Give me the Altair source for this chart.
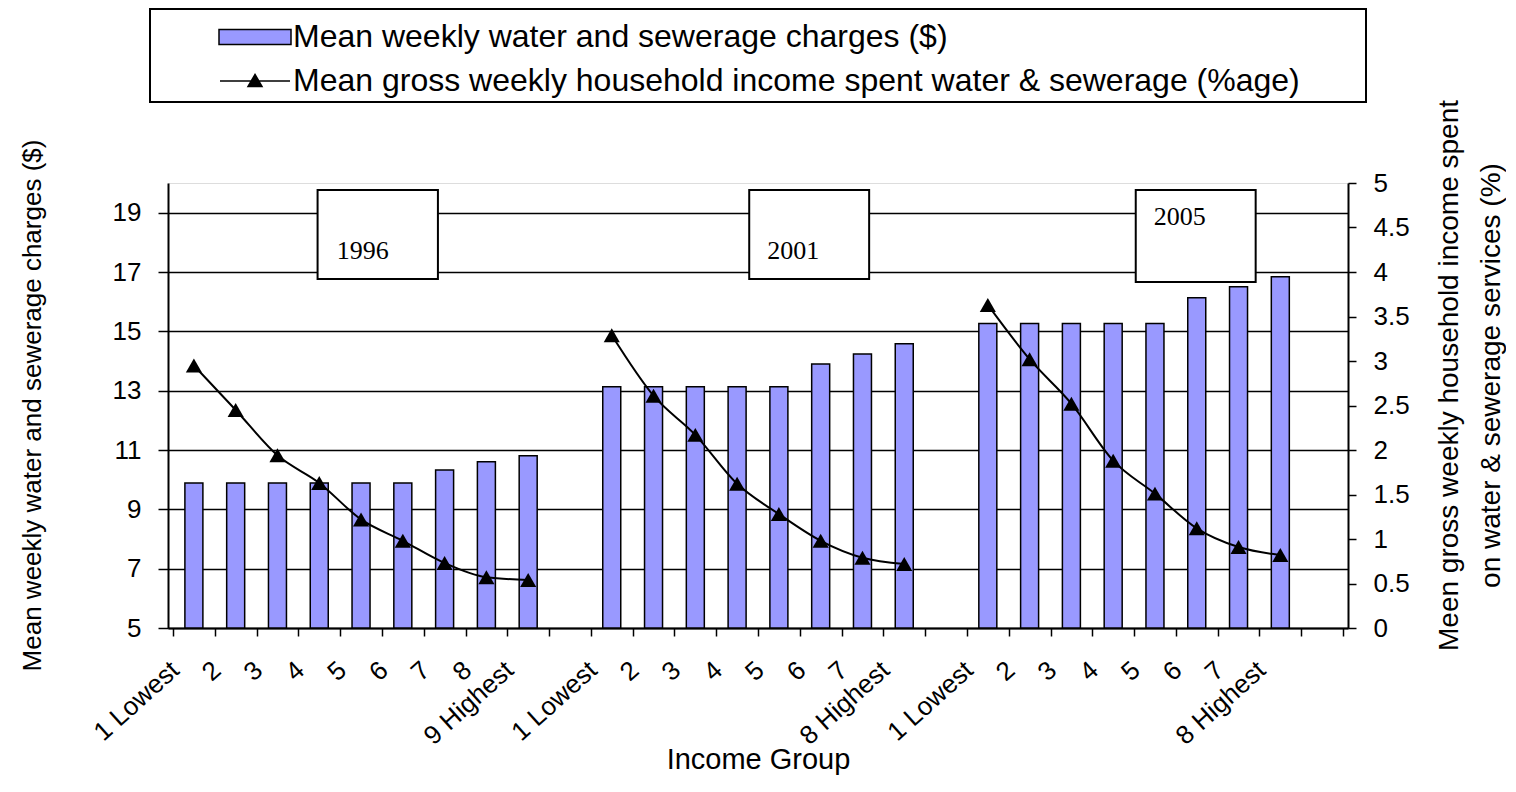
import json
import altair as alt
import pandas as pd

# ---------------- data ----------------
x_labels = ["1 Lowest", "2", "3", "4", "5", "6", "7", "8", "9 Highest", "",
            "1 Lowest", "2", "3", "4", "5", "6", "7", "8 Highest", "",
            "1 Lowest", "2", "3", "4", "5", "6", "7", "8 Highest", ""]
years = [1996, 2001, 2005]

charges_1996 = [9.89, 9.89, 9.89, 9.89, 9.89, 9.89, 10.33, 10.60, 10.81]
charges_2001 = [13.13, 13.13, 13.13, 13.13, 13.13, 13.90, 14.24, 14.58]
charges_2005 = [15.26, 15.26, 15.26, 15.26, 15.26, 16.13, 16.50, 16.84]

pct_1996 = [2.95, 2.45, 1.94, 1.63, 1.22, 0.98, 0.73, 0.57, 0.54]
pct_2001 = [3.29, 2.61, 2.17, 1.62, 1.28, 0.98, 0.79, 0.72]
pct_2005 = [3.63, 3.02, 2.52, 1.88, 1.51, 1.12, 0.91, 0.82]

series_bar = "Mean weekly water and sewerage charges ($)"
series_line = "Mean gross weekly household income spent water & sewerage (%age)"

left_title = "Mean weekly water and sewerage charges ($)"
right_title = ["Meen gross weekly household income spent",
               "on water & sewerage services (%)"]
x_title = "Income Group"

# year annotation boxes (in axis units: category slots / left axis $)
box_year = ["1996", "2001", "2005"]
box_x0 = [3.46, 13.79, 23.04]
box_x1 = [6.34, 16.66, 25.91]
box_top = [19.76, 19.76, 19.76]
box_bottom = [16.76, 16.76, 16.66]
text_x = [3.92, 14.22, 23.47]
text_y = [17.44, 17.44, 18.58]

# ---------------- tables ----------------
charges_all = [charges_1996, charges_2001, charges_2005]
pct_all = [pct_1996, pct_2001, pct_2005]
rows = []
g, k = 0, 0
for i, lab in enumerate(x_labels):
    if lab == "":
        g += 1
        k = 0
        continue
    rows.append({"pos": i + 0.5, "year": years[g],
                 "charge": charges_all[g][k], "pct": pct_all[g][k],
                 "series": series_line})
    k += 1
df = pd.DataFrame(rows)

ann = pd.DataFrame({"year": box_year, "x0": box_x0, "x1": box_x1,
                    "yt": box_top, "yb": box_bottom,
                    "tx": text_x, "ty": text_y})

N = len(x_labels)
FONT = "Liberation Sans"

x_scale = alt.Scale(domain=[0, N], nice=False, zero=False)
label_expr = ("datum.value % 1 === 0 ? '' : " + json.dumps(x_labels)
              + "[floor(datum.value)]")
x_axis = alt.Axis(
    values=[i * 0.5 for i in range(2 * N + 1)],
    labelExpr=label_expr,
    tickOpacity={"condition": {"test": "datum.value % 1 !== 0", "value": 0}, "value": 1},
    grid=False, domainColor="black", domainWidth=2,
    tickColor="black", tickWidth=1.5, tickSize=8,
    labelAngle=318, labelAlign="right", labelBaseline="middle",
    labelFont=FONT, labelFontSize=26, labelColor="black",
    labelPadding=30, labelOffset=-19, labelOverlap=False, labelFlush=False,
    title=x_title, titleFont=FONT, titleFontSize=29, titleFontWeight="normal",
    titleColor="black", titleY=131, titleBaseline="middle",
)

yl_scale = alt.Scale(domain=[5, 20], nice=False, zero=False)
yl_axis = alt.Axis(
    values=list(range(5, 20, 2)), grid=True, gridColor="black", gridWidth=1.5,
    gridOpacity=1, domainColor="black", domainWidth=2, tickColor="black",
    tickWidth=1.5, tickSize=10, labelFont=FONT, labelFontSize=26,
    labelColor="black", labelPadding=17,
    title=left_title, titleFont=FONT, titleFontSize=26, titleFontWeight="normal",
    titleColor="black", titleAngle=270, titleX=-136, titleY=222,
    titleBaseline="middle", titleAlign="center",
)

yr_scale = alt.Scale(domain=[0, 5], nice=False, zero=True)
yr_axis = alt.Axis(
    orient="right", values=[i * 0.5 for i in range(11)], format="~g",
    grid=False, domainColor="black", domainWidth=2, tickColor="black",
    tickWidth=1.5, tickSize=8, labelFont=FONT, labelFontSize=26,
    labelColor="black", labelPadding=17,
    title=right_title, titleFont=FONT, titleFontSize=28, titleFontWeight="normal",
    titleColor="black", titleAngle=270, titleX=101, titleY=192,
    titleBaseline="middle", titleAlign="center", titleLineHeight=42,
)


def X(field):
    return alt.X(field, type="quantitative", scale=x_scale, axis=x_axis)


def YL(field):
    return alt.Y(field, type="quantitative", scale=yl_scale, axis=yl_axis)


def YR(field):
    return alt.Y(field, type="quantitative", scale=yr_scale, axis=yr_axis)


bars = alt.Chart(df).mark_bar(
    size=18, fill="#9999FF", stroke="black", strokeWidth=1.5
).encode(x=X("pos"), y=YL("charge"), y2=alt.datum(5))

boxes = alt.Chart(ann).mark_rect(
    fill="white", stroke="black", strokeWidth=2
).encode(x=X("x0"), x2="x1", y=YL("yt"), y2="yb")

box_text = alt.Chart(ann).mark_text(
    font="Liberation Serif", fontSize=26, align="left",
    baseline="alphabetic", color="black"
).encode(x=X("tx"), y=YL("ty"), text="year:N")

legend_box = alt.Chart(pd.DataFrame({"k": [0]})).mark_rect(
    fill="transparent", stroke="black", strokeWidth=2
).encode(x=alt.value(-18), x2=alt.value(1198), y=alt.value(-174), y2=alt.value(-81))

left = alt.layer(bars, boxes, box_text, legend_box)

line = alt.Chart(df).mark_line(
    color="black", strokeWidth=2, interpolate="monotone"
).encode(x=X("pos"), y=YR("pct"), detail="year:N")

points = alt.Chart(df).mark_point(
    shape="triangle-up", filled=True, color="black", size=260, opacity=1
).encode(x=X("pos"), y=YR("pct"))

rect_path = "M-3.6,-0.75H3.6V0.75H-3.6Z"
linetri_path = "M-3.5,0H3.5M0,-0.65L0.7,0.55L-0.7,0.55Z"
legend = alt.Legend(
    orient="none", legendX=71, legendY=-162, title=None, padding=0,
    direction="vertical", labelFont=FONT, labelFontSize=32, labelColor="black",
    labelLimit=2000, symbolSize=400, symbolStrokeColor="black",
    symbolStrokeWidth=1.5, rowPadding=12, labelOffset=22, symbolOpacity=1,
)
leg_domain = [series_bar, series_line]
legend_layer = alt.Chart(df).mark_point(filled=True, opacity=1).encode(
    x=X("pos"), y=YR("pct"),
    shape=alt.Shape("series:N", scale=alt.Scale(domain=leg_domain,
                                                range=[rect_path, linetri_path]),
                    legend=legend),
    fill=alt.Fill("series:N", scale=alt.Scale(domain=leg_domain,
                                              range=["#9999FF", "black"]),
                  legend=legend),
    stroke=alt.Stroke("series:N", scale=alt.Scale(domain=leg_domain,
                                                  range=["black", "black"]),
                      legend=legend),
).transform_filter("false")

right = alt.layer(line, points, legend_layer)

chart = alt.layer(left, right).resolve_scale(y="independent").properties(
    width=1180, height=445,
    autosize=alt.AutoSizeParams(type="none"),
    padding={"left": 160, "top": 175, "right": 158, "bottom": 151},
).configure_view(stroke="black", strokeWidth=1.5).configure(font=FONT)

chart.save("out.html", embed_options={"renderer": "svg", "actions": False})
